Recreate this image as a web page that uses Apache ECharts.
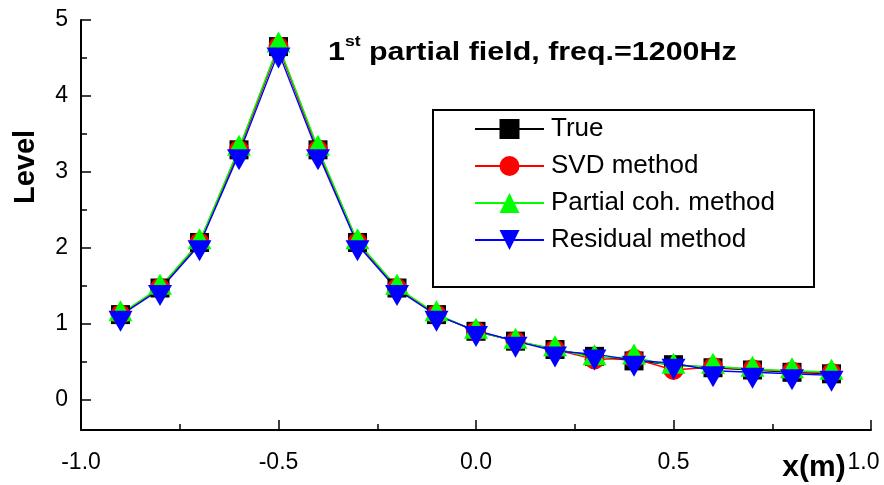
<!DOCTYPE html>
<html>
<head>
<meta charset="utf-8">
<title>1st partial field, freq.=1200Hz</title>
<script src="https://cdn.jsdelivr.net/npm/echarts@6/dist/echarts.min.js"></script>
<style>
  html, body { margin: 0; padding: 0; background: #fff; }
  #chart { width: 884px; height: 485px; }
</style>
</head>
<body>
<div id="chart"></div>
<script>
// Measurement positions along the array (m)
const xPositions = [-0.9, -0.8, -0.7, -0.6, -0.5, -0.4, -0.3, -0.2, -0.1, 0.0, 0.1, 0.2, 0.3, 0.4, 0.5, 0.6, 0.7, 0.8, 0.9];

// Level of the 1st partial field for each method
const trueLevel     = [1.12, 1.47, 2.07, 3.29, 4.65, 3.29, 2.07, 1.47, 1.12, 0.90, 0.77, 0.66, 0.57, 0.51, 0.46, 0.42, 0.39, 0.36, 0.34];
const svdLevel      = [1.12, 1.47, 2.07, 3.29, 4.65, 3.29, 2.07, 1.47, 1.12, 0.90, 0.77, 0.66, 0.53, 0.54, 0.39, 0.43, 0.40, 0.37, 0.35];
const partialLevel  = [1.13, 1.48, 2.08, 3.31, 4.67, 3.31, 2.08, 1.48, 1.13, 0.90, 0.77, 0.67, 0.55, 0.56, 0.44, 0.44, 0.40, 0.38, 0.36];
const residualLevel = [1.11, 1.45, 2.04, 3.24, 4.58, 3.24, 2.04, 1.45, 1.11, 0.91, 0.77, 0.64, 0.60, 0.52, 0.48, 0.38, 0.36, 0.34, 0.32];

// Axis ticks
const yMajorTicks = [0, 1, 2, 3, 4, 5];
const yMinorTicks = [0.5, 1.5, 2.5, 3.5, 4.5];

const FONT = '"Liberation Sans", Arial, Helvetica, sans-serif';

function pairs(ys) {
  return xPositions.map((x, i) => [x, ys[i]]);
}

function makeSeries(name, values, color, symbol, size, offset) {
  return {
    name: name,
    type: 'line',
    data: pairs(values),
    symbol: symbol,
    symbolSize: size,
    symbolOffset: offset,
    showAllSymbol: true,
    lineStyle: { color: color, width: 1.4 },
    itemStyle: { color: color, opacity: 1 },
    emphasis: { disabled: true },
    animation: false
  };
}

const chart = echarts.init(document.getElementById('chart'), null, { renderer: 'canvas' });

chart.setOption({
  backgroundColor: '#ffffff',
  animation: false,
  textStyle: { fontFamily: FONT },
  legend: {
    orient: 'vertical',
    left: 474,
    top: 116,
    padding: 0,
    itemWidth: 69,
    itemHeight: 25,
    itemGap: 11,
    selectedMode: false,
    textStyle: { fontFamily: FONT, fontSize: 26, lineHeight: 25, color: '#000', padding: [0, 0, 0, 2] },
    data: ['True', 'SVD method', 'Partial coh. method', 'Residual method']
  },
  grid: {
    left: 81,
    right: 13,
    top: 20,
    bottom: 55,
    containLabel: false,
    outerBoundsMode: 'none'
  },
  xAxis: {
    type: 'value',
    min: -1,
    max: 1,
    interval: 0.5,
    axisLine: { show: true, onZero: false, lineStyle: { color: '#000', width: 2 } },
    axisTick: { show: true, inside: true, length: 10, lineStyle: { color: '#000', width: 1.5 } },
    minorTick: { show: true, splitNumber: 2, length: 6, lineStyle: { color: '#000', width: 1.5 } },
    splitLine: { show: false },
    minorSplitLine: { show: false },
    axisLabel: {
      margin: 21,
      fontFamily: FONT,
      fontSize: 23,
      color: '#000',
      showMinLabel: true,
      showMaxLabel: true,
      formatter: v => (v === 1 ? '{end|' + v.toFixed(1) + '}' : v.toFixed(1)),
      rich: {
        end: { fontFamily: FONT, fontSize: 23, color: '#000', padding: [0, 15, 0, 0] }
      }
    }
  },
  yAxis: [
    {
      type: 'value',
      min: -0.4,
      max: 5,
      position: 'left',
      axisLine: { show: true, onZero: false, lineStyle: { color: '#000', width: 2 } },
      axisTick: { show: true, inside: true, length: 10, customValues: yMajorTicks, lineStyle: { color: '#000', width: 1.5 } },
      splitLine: { show: false },
      axisLabel: {
        margin: 13,
        fontFamily: FONT,
        fontSize: 23,
        color: '#000',
        customValues: yMajorTicks,
        formatter: v => String(v)
      }
    },
    {
      // minor ticks at the half-units
      type: 'value',
      min: -0.4,
      max: 5,
      position: 'left',
      offset: 0,
      axisLine: { show: false, onZero: false },
      axisTick: { show: true, inside: true, length: 6, customValues: yMinorTicks, lineStyle: { color: '#000', width: 1.5 } },
      axisLabel: { show: false },
      splitLine: { show: false }
    }
  ],
  series: [
    makeSeries('True', trueLevel, '#000000', 'rect', 19, [0, 0]),
    makeSeries('SVD method', svdLevel, '#ff0000', 'circle', 20, [0, 0]),
    makeSeries('Partial coh. method', partialLevel, '#00ff00', 'path://M12,0L24,21L0,21Z', [24, 21], [0, -3]),
    makeSeries('Residual method', residualLevel, '#0000ff', 'path://M0,0L24,0L12,21Z', [24, 21], [0, 6])
  ],
  graphic: [
    {
      // plot title with superscript ordinal
      type: 'text',
      x: 328,
      y: 34,
      scaleX: 1.17,
      style: {
        text: '{a|1}{s|st}{a| partial field, freq.=1200Hz}',
        verticalAlign: 'top',
        rich: {
          a: { font: 'bold 26px ' + FONT, fill: '#000', lineHeight: 32, verticalAlign: 'bottom' },
          s: { font: 'bold 15px ' + FONT, fill: '#000', lineHeight: 15, verticalAlign: 'top' }
        }
      },
      silent: true
    },
    {
      type: 'rect',
      shape: { x: 433, y: 110, width: 381, height: 177 },
      style: { fill: 'none', stroke: '#000', lineWidth: 2 },
      silent: true,
      z: 100
    },
    {
      type: 'text',
      x: 26,
      y: 167,
      rotation: Math.PI / 2,
      style: {
        text: 'Level',
        font: 'bold 29px ' + FONT,
        fill: '#000',
        align: 'center',
        verticalAlign: 'middle'
      },
      silent: true
    },
    {
      type: 'text',
      x: 814,
      y: 468,
      style: {
        text: 'x(m)',
        font: 'bold 30px ' + FONT,
        fill: '#000',
        align: 'center',
        verticalAlign: 'middle'
      },
      silent: true
    }
  ]
});
</script>
</body>
</html>
